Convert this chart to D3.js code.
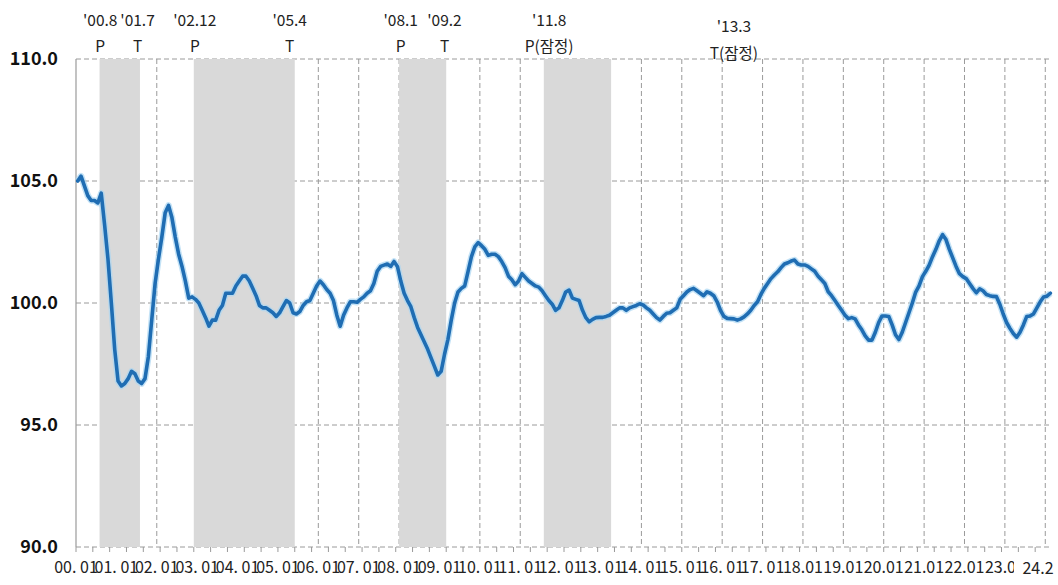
<!DOCTYPE html>
<html><head><meta charset="utf-8">
<script src="https://cdn.jsdelivr.net/npm/d3@7"></script>
<style>
html,body{margin:0;padding:0;background:#fff;}
svg{display:block;}
text{font-family:"Noto Sans CJK KR","Noto Sans",sans-serif;}
</style></head>
<body>
<svg id="chart" width="1058" height="585"></svg>
<script>
// monthly index values, 2000.01 .. 2024.02
const values = [
 105.0,105.2,104.8,104.4,104.2,104.2,104.1,104.5,103.2,101.8,100.0,98.1,
 96.8,96.6,96.7,96.9,97.2,97.1,96.8,96.7,96.9,97.8,99.3,100.8,
 101.8,102.7,103.7,104.0,103.5,102.7,102.0,101.5,100.9,100.2,100.25,100.15,
 100.0,99.7,99.4,99.05,99.3,99.3,99.7,99.9,100.4,100.4,100.4,100.7,
 100.9,101.1,101.1,100.9,100.6,100.3,99.9,99.8,99.8,99.7,99.6,99.45,
 99.6,99.85,100.1,100.0,99.6,99.55,99.65,99.9,100.05,100.1,100.4,100.7,
 100.9,100.75,100.55,100.4,100.1,99.5,99.05,99.5,99.8,100.05,100.05,100.03,
 100.15,100.25,100.4,100.5,100.8,101.3,101.5,101.55,101.6,101.5,101.7,101.5,
 100.9,100.4,100.1,99.85,99.4,99.0,98.7,98.4,98.1,97.75,97.4,97.05,
 97.2,97.9,98.5,99.3,100.0,100.45,100.6,100.7,101.3,101.9,102.3,102.47,
 102.35,102.2,101.95,102.0,102.0,101.9,101.7,101.45,101.1,100.95,100.75,100.9,
 101.2,101.05,100.9,100.8,100.7,100.65,100.5,100.3,100.1,99.95,99.7,99.8,
 100.1,100.45,100.53,100.2,100.15,100.1,99.7,99.4,99.23,99.33,99.4,99.41,
 99.41,99.45,99.5,99.6,99.7,99.8,99.8,99.7,99.8,99.85,99.9,99.97,
 99.92,99.8,99.7,99.55,99.4,99.3,99.45,99.58,99.6,99.7,99.8,100.15,
 100.3,100.45,100.55,100.6,100.5,100.4,100.3,100.46,100.4,100.3,100.05,99.7,
 99.45,99.37,99.36,99.35,99.3,99.35,99.43,99.55,99.7,99.9,100.05,100.35,
 100.6,100.8,101.0,101.15,101.28,101.45,101.6,101.65,101.72,101.76,101.6,101.56,
 101.56,101.5,101.4,101.3,101.1,100.95,100.8,100.46,100.3,100.1,99.9,99.7,
 99.5,99.36,99.4,99.35,99.1,98.9,98.65,98.48,98.48,98.8,99.2,99.47,
 99.47,99.45,99.1,98.7,98.5,98.8,99.2,99.6,100.0,100.45,100.7,101.08,
 101.3,101.55,101.9,102.2,102.55,102.8,102.6,102.2,101.85,101.5,101.2,101.08,
 101.0,100.8,100.6,100.42,100.58,100.5,100.35,100.3,100.27,100.26,99.95,99.55,
 99.2,98.96,98.75,98.6,98.8,99.1,99.45,99.47,99.55,99.8,100.05,100.25,
 100.28,100.4
];
const tickLabels = ["00. 01","01. 01","02. 01","03. 01","04. 01","05. 01","06. 01","07. 01","08. 01","09. 01",
 "10. 01","11. 01","12. 01","13. 01","14. 01","15. 01","16. 01","17. 01","18.01","19.01","20.01","21.01","22.01","23.01"];
const lastLabel = "24.2";
const yTicks = [90,95,100,105,110];
// recession shading: start month index (peak) .. end month index (trough), inclusive
const bandStart = [7, 35, 96, 139];
const bandEnd   = [18, 64, 109, 158];
const annDates = ["'00.8","'01.7","'02.12","'05.4","'08.1","'09.2","'11.8","'13.3"];
const annMarks = ["P","T","P","T","P","T","P(잠정)","T(잠정)"];
const annMonth = [7.2, 18.3, 35.3, 63.5, 96.5, 109.5, 140.6, 195.5];
const annShift = [0,0,0,0,0,0,0,1];

const svg = d3.select("#chart");
const n = values.length;
const x = d3.scaleLinear().domain([0, n]).range([76, 1052]);
const y = d3.scaleLinear().domain([90, 110]).range([547, 59]);
const xRight = x(n) - 3;

// horizontal gridlines
svg.append("g").selectAll("line").data(yTicks).join("line")
  .attr("x1", 76).attr("x2", xRight)
  .attr("y1", d => y(d)).attr("y2", d => y(d))
  .attr("stroke", "#9a9a9a").attr("stroke-width", 1).attr("stroke-dasharray", "5,3");

// vertical gridlines (each January)
const years = d3.range(1, Math.floor((n - 1) / 12) + 1);
svg.append("g").selectAll("line").data(years).join("line")
  .attr("x1", d => x(d * 12)).attr("x2", d => x(d * 12))
  .attr("y1", y(110)).attr("y2", y(90))
  .attr("stroke", "#9a9a9a").attr("stroke-width", 1).attr("stroke-dasharray", "5,3");

// recession bands
svg.append("g").selectAll("rect").data(bandStart).join("rect")
  .attr("x", (d) => x(d))
  .attr("width", (d, i) => x(bandEnd[i] + 1) - x(d))
  .attr("y", y(110)).attr("height", y(90) - y(110))
  .attr("fill", "#d9d9d9");

// x-axis minor ticks
const minor = d3.range(0, n, 5);
svg.append("g").selectAll("line").data(minor).join("line")
  .attr("x1", d => x(d)).attr("x2", d => x(d))
  .attr("y1", y(90)).attr("y2", y(90) + 5)
  .attr("stroke", "#9a9a9a").attr("stroke-width", 1);

// y axis line
svg.append("line").attr("x1", 76).attr("x2", 76).attr("y1", y(110)).attr("y2", y(90))
  .attr("stroke", "#9a9a9a").attr("stroke-width", 1.2);

// y tick labels
svg.append("g").selectAll("text").data(yTicks).join("text")
  .attr("x", 58).attr("y", d => y(d)).attr("dy", "0.35em")
  .attr("text-anchor", "end").attr("font-size", 18).attr("font-weight", "bold")
  .attr("fill", "#111").text(d => d.toFixed(1));

// x tick labels
svg.append("g").selectAll("text").data(tickLabels).join("text")
  .attr("x", (d, i) => x(i * 12)).attr("y", 567).attr("dy", "0.35em")
  .attr("text-anchor", "middle").attr("font-size", 16).attr("fill", "#222")
  .text(d => d);
svg.append("rect").attr("x", 1014).attr("y", 553).attr("width", 44).attr("height", 30).attr("fill", "#fff");
svg.append("text").attr("x", 1038).attr("y", 568).attr("dy", "0.35em")
  .attr("text-anchor", "middle").attr("font-size", 16).attr("fill", "#222").text(lastLabel);

// line with soft glow
const line = d3.line().x((d, i) => x(i + 0.5)).y(d => y(d)).curve(d3.curveLinear);
svg.append("path").datum(values).attr("d", line)
  .attr("fill", "none").attr("stroke", "#a9d6f2").attr("stroke-width", 6.5)
  .attr("stroke-linejoin", "round").attr("opacity", 0.7);
svg.append("path").datum(values).attr("d", line)
  .attr("fill", "none").attr("stroke", "#1f6db3").attr("stroke-width", 3.6)
  .attr("stroke-linejoin", "round").attr("stroke-linecap", "round");

// annotations
const ann = svg.append("g");
ann.selectAll("text.date").data(annDates).join("text").attr("class", "date")
  .attr("x", (d, i) => x(annMonth[i])).attr("y", (d, i) => 21 + annShift[i] * 6).attr("dy", "0.35em")
  .attr("text-anchor", "middle").attr("font-size", 15.5).attr("fill", "#222").text(d => d);
ann.selectAll("text.mark").data(annMarks).join("text").attr("class", "mark")
  .attr("x", (d, i) => x(annMonth[i])).attr("y", (d, i) => 47 + annShift[i] * 7).attr("dy", "0.35em")
  .attr("text-anchor", "middle").attr("font-size", 15.5).attr("fill", "#222").text(d => d);
</script>
</body></html>
